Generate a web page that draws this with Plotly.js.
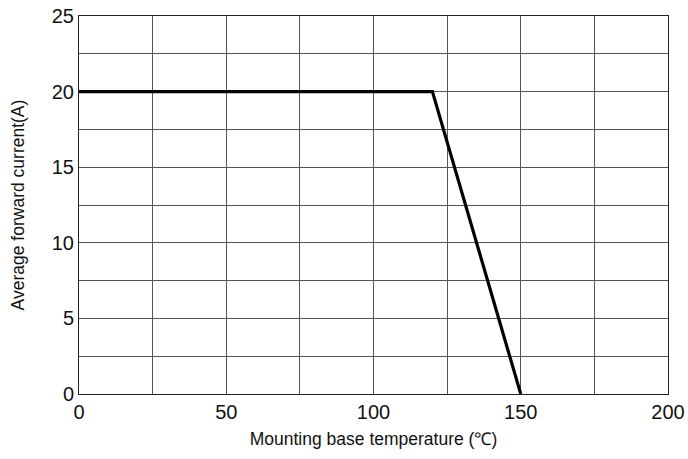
<!DOCTYPE html>
<html>
<head>
<meta charset="utf-8">
<script src="https://cdn.plot.ly/plotly-3.0.1.min.js"></script>
<style>html,body{margin:0;padding:0;background:#fff;}#chart{width:688px;height:459px;}</style>
</head>
<body>
<div id="chart"></div>
<script>
const temperature = [0, 120, 150];
const current = [20, 20, 0];
const xTickVals = [0, 25, 50, 75, 100, 125, 150, 175, 200];
const xTickText = ["0", "", "50", "", "100", "", "150", "", "200"];
const yTickVals = [0, 2.5, 5, 7.5, 10, 12.5, 15, 17.5, 20, 22.5, 25];
const yTickText = ["0", "", "5", "", "10", "", "15", "", "20", "", "25"];

const trace = {
  x: temperature, y: current, mode: 'lines', type: 'scatter',
  line: {color: '#000', width: 3.2}, hoverinfo: 'none'
};
const layout = {
  width: 688, height: 459,
  margin: {l: 79, r: 20, t: 16, b: 65},
  paper_bgcolor: '#fff', plot_bgcolor: '#fff',
  font: {family: 'Liberation Sans, Arial, sans-serif', color: '#111'},
  showlegend: false,
  xaxis: {
    range: [0, 200], tickvals: xTickVals, ticktext: xTickText,
    showgrid: true, gridcolor: '#555', gridwidth: 1,
    zeroline: false, showline: true, linecolor: '#222', linewidth: 1, mirror: true,
    ticks: '', tickfont: {size: 20, color: '#111'},
    title: {text: 'Mounting base temperature (℃)', font: {size: 17.5, color: '#111'}, standoff: 10}
  },
  yaxis: {
    range: [0, 25], tickvals: yTickVals, ticktext: yTickText,
    showgrid: true, gridcolor: '#555', gridwidth: 1,
    zeroline: false, showline: true, linecolor: '#222', linewidth: 1, mirror: true,
    ticks: '', tickfont: {size: 20, color: '#111'},
    title: {text: 'Average forward current(A)', font: {size: 17.5, color: '#111'}, standoff: 22}
  }
};
Plotly.newPlot('chart', [trace], layout, {staticPlot: true, displayModeBar: false});
</script>
</body>
</html>
